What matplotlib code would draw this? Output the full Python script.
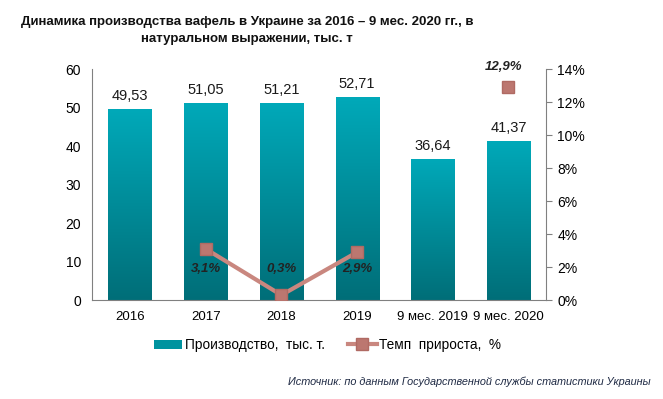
import numpy as np
import matplotlib
matplotlib.use("Agg")
import matplotlib.pyplot as plt
from matplotlib.patches import Rectangle
from matplotlib.lines import Line2D

# данные
categories = ["2016", "2017", "2018", "2019", "9 мес. 2019", "9 мес. 2020"]
production = [49.53, 51.05, 51.21, 52.71, 36.64, 41.37]
growth = [np.nan, 3.1, 0.3, 2.9, np.nan, 12.9]
prod_labels = ["49,53", "51,05", "51,21", "52,71", "36,64", "41,37"]
growth_labels = ["", "3,1%", "0,3%", "2,9%", "", "12,9%"]

plt.rcParams['font.family'] = ['Liberation Sans', 'DejaVu Sans']

fig = plt.figure(figsize=(6.63, 3.99), dpi=100)
ax = fig.add_axes([0.139, 0.248, 0.685, 0.579])
ax2 = ax.twinx()

x = np.arange(len(categories))
bw = 0.57
bars = ax.bar(x, production, width=bw, color='none', edgecolor='none', zorder=2)

# градиент в столбцах
grad = np.linspace(0, 1, 256).reshape(-1, 1)
cmap = matplotlib.colors.LinearSegmentedColormap.from_list("teal", ["#006E78", "#00A9B9"])
for b in bars:
    im = ax.imshow(grad, cmap=cmap, aspect='auto', origin='lower',
                   extent=[b.get_x(), b.get_x() + b.get_width(), 0, b.get_height()], zorder=2)
    im.set_clip_path(b)

for i, v in enumerate(production):
    ax.text(x[i], v + 1.6, prod_labels[i], ha='center', va='bottom', fontsize=10.5, color='#1a1a1a')

ax.set_xlim(-0.5, len(categories) - 0.5)
ax.set_ylim(0, 60)
ax.set_yticks(range(0, 61, 10))
ax.set_xticks(x)
ax.set_xticklabels(categories, fontsize=9.5)
ax.tick_params(axis='y', labelsize=10, length=0, pad=8)
ax.tick_params(axis='x', length=0, pad=8)

# линия прироста
line_col = "#C9877F"
ax2.plot(x, growth, color=line_col, lw=3, zorder=3)
ax2.plot(x, growth, linestyle='none', marker='s', markersize=9, color="#BC7770",
         markeredgecolor="#B06A63", zorder=4)
ax2.set_ylim(0, 14)
ax2.set_yticks(range(0, 15, 2))
ax2.set_yticklabels([f"{t}%" for t in range(0, 15, 2)], fontsize=10)
ax2.tick_params(axis='y', length=4, color='#808080', pad=4)

# подписи прироста: (x, y) в единицах правой оси
lab_pos = {1: (1.0, 1.9), 2: (2.0, 1.9), 3: (3.0, 1.9), 5: (4.94, 14.15)}
for i, g in enumerate(growth):
    if np.isnan(g):
        continue
    lx, ly = lab_pos[i]
    ax2.text(lx, ly, growth_labels[i], ha='center', va='center', clip_on=False,
             fontsize=9.5, fontweight='bold', style='italic', color='#222222')

ax.spines['top'].set_visible(False)
ax2.spines['top'].set_visible(False)
ax.spines['left'].set_color('#808080')
ax.spines['bottom'].set_color('#808080')
ax2.spines['left'].set_visible(False)
ax2.spines['bottom'].set_visible(False)
ax2.spines['right'].set_color('#808080')
ax.spines['right'].set_visible(False)

fig.text(0.373, 0.96, "Динамика производства вафель в Украине за 2016 – 9 мес. 2020 гг., в\nнатуральном выражении, тыс. т",
         ha='center', va='top', fontsize=9.5, fontweight='bold', linespacing=1.55, color='#111111')

handles = [
    Rectangle((0, 0), 1, 1, facecolor='#00939F', edgecolor='none'),
    Line2D([0], [0], color=line_col, lw=3, marker='s', markersize=8, markerfacecolor='#BC7770',
           markeredgecolor='#B06A63'),
]
fig.legend(handles, ["Производство,  тыс. т.", "Темп  прироста,  %"], loc='center',
           bbox_to_anchor=(0.494, 0.135), ncol=2, frameon=False, fontsize=9.8,
           handlelength=2.1, handletextpad=0.2, columnspacing=1.7)

fig.text(0.981, 0.03, "Источник: по данным Государственной службы статистики Украины",
         ha='right', va='bottom', fontsize=7.8, style='italic', color='#1F2A44')

fig.savefig("out.png", dpi=100)
